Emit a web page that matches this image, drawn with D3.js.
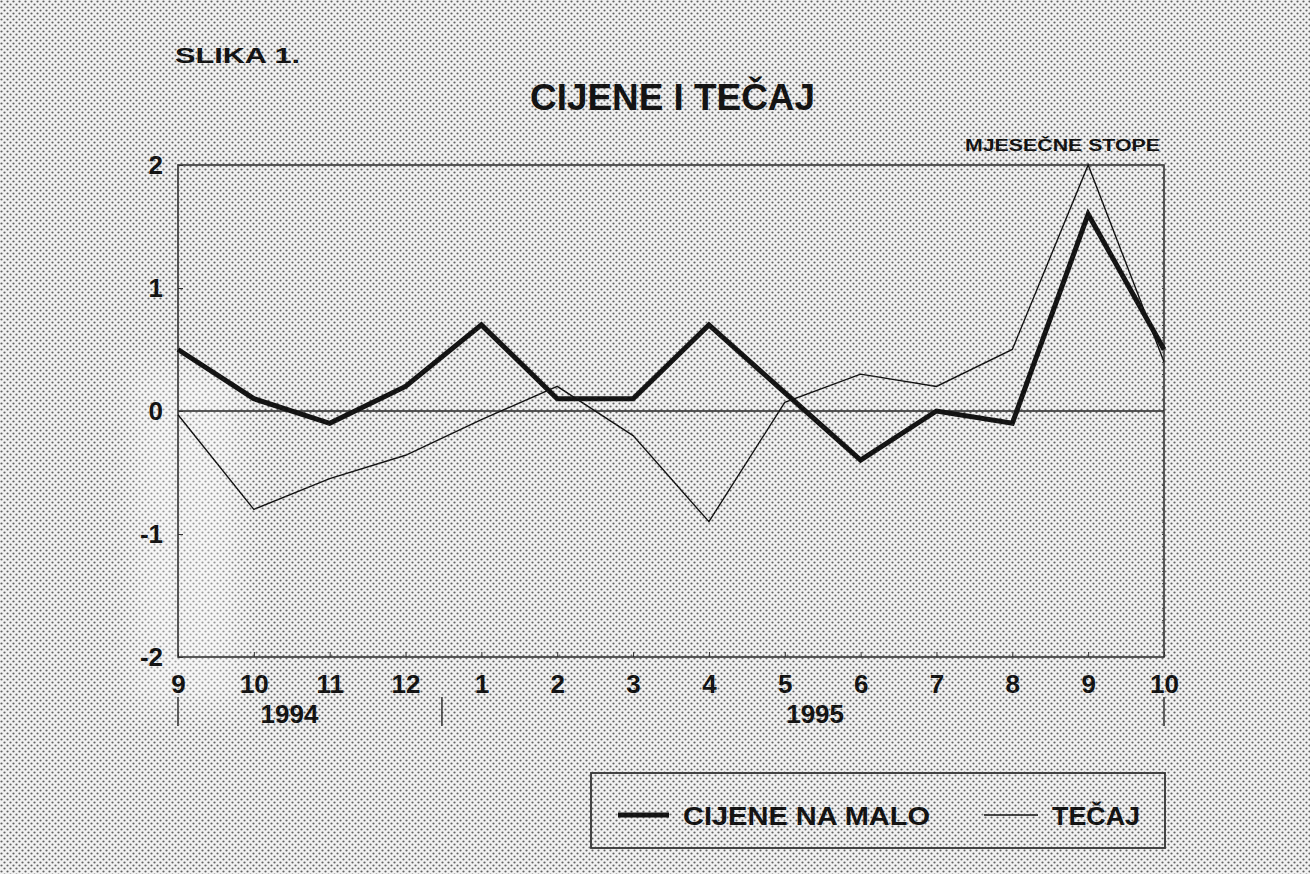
<!DOCTYPE html>
<html>
<head>
<meta charset="utf-8">
<script src="https://cdn.jsdelivr.net/npm/d3@7"></script>
<style>
  body { margin: 0; background: #fff; }
  svg { display: block; font-family: "Liberation Sans", Arial, sans-serif; }
</style>
</head>
<body>
<div class="chart"></div>
<script>
'use strict';

// month labels, Sep 1994 .. Oct 1995
var months = ['9', '10', '11', '12', '1', '2', '3', '4', '5', '6', '7', '8', '9', '10'];
var years = ['1994', '1995'];
var cijene = [0.5, 0.1, -0.1, 0.2, 0.7, 0.1, 0.1, 0.7, 0.15, -0.4, 0.0, -0.1, 1.6, 0.5];
var tecaj = [-0.03, -0.8, -0.55, -0.36, -0.07, 0.2, -0.2, -0.9, 0.07, 0.3, 0.2, 0.5, 2.0, 0.4];
var yTicks = [-2, -1, 0, 1, 2];

var W = 1310, H = 874;
var x = d3.scaleLinear().domain([0, months.length - 1]).range([178, 1164]);
var y = d3.scaleLinear().domain([-2, 2]).range([657, 165]);
var ink = '#141414';

var svg = d3.select('.chart').append('svg').attr('width', W).attr('height', H);

// halftone background, like the scanned print
var defs = svg.append('defs');
var pat = defs.append('pattern').attr('id', 'dots').attr('patternUnits', 'userSpaceOnUse')
  .attr('width', 6).attr('height', 6);
pat.append('rect').attr('width', 6).attr('height', 6).attr('fill', '#f2f2f2');
pat.append('circle').attr('cx', 1.5).attr('cy', 1.5).attr('r', 1.1).attr('fill', '#626262');
pat.append('circle').attr('cx', 4.5).attr('cy', 4.5).attr('r', 1.1).attr('fill', '#626262');
defs.append('filter').attr('id', 'soft').attr('filterUnits', 'userSpaceOnUse')
  .attr('x', 60).attr('y', 290).attr('width', 260).attr('height', 500)
  .append('feGaussianBlur').attr('stdDeviation', 16);
svg.append('rect').attr('width', W).attr('height', H).attr('fill', 'url(#dots)');
// lighter smudge near the left axis
svg.append('rect').attr('x', 135).attr('y', 370).attr('width', 105).attr('height', 335)
  .attr('fill', '#fff').attr('opacity', 0.35).attr('filter', 'url(#soft)');

function label(sel, size, len) {
  sel.attr('font-size', size).attr('font-weight', 'bold').attr('fill', ink);
  if (len) sel.attr('textLength', len).attr('lengthAdjust', 'spacingAndGlyphs');
  return sel;
}

label(svg.append('text').attr('x', 175).attr('y', 63), 22, 125).text('SLIKA 1.');
label(svg.append('text').attr('x', 530).attr('y', 110), 37, 285).text('CIJENE I TEČAJ');
label(svg.append('text').attr('x', 965).attr('y', 151), 16, 195).text('MJESEČNE STOPE');

// frame
svg.append('rect').attr('x', x(0)).attr('y', y(2)).attr('width', x(13) - x(0)).attr('height', y(-2) - y(2))
  .attr('fill', 'none').attr('stroke', '#333').attr('stroke-width', 1.6);

// zero line
svg.append('line').attr('x1', x(0)).attr('x2', x(13)).attr('y1', y(0)).attr('y2', y(0))
  .attr('stroke', '#222').attr('stroke-width', 1.5);

// left axis
var yAxis = d3.axisLeft(y).tickValues(yTicks).tickSize(-5).tickPadding(15)
  .tickFormat(function (d) { return d < 0 ? '-' + Math.abs(d) : d; });
var gy = svg.append('g').attr('transform', 'translate(' + x(0) + ',0)').call(yAxis);
gy.select('.domain').remove();
gy.selectAll('line').attr('stroke', '#333');
gy.selectAll('text').attr('font-size', 26).attr('font-weight', 'bold').attr('fill', ink)
  .attr('font-family', '"Liberation Sans", Arial, sans-serif');

// right axis minor ticks
var gr = svg.append('g').attr('transform', 'translate(' + x(13) + ',0)')
  .call(d3.axisRight(y).ticks(40).tickSize(-2).tickFormat(''));
gr.select('.domain').remove();
gr.selectAll('line').attr('stroke', '#444');

// bottom axis
var xAxis = d3.axisBottom(x).tickValues(d3.range(months.length)).tickSize(-5).tickPadding(18)
  .tickFormat(function (i) { return months[i]; });
var gx = svg.append('g').attr('transform', 'translate(0,' + y(-2) + ')').call(xAxis);
gx.select('.domain').remove();
gx.selectAll('line').attr('stroke', '#333');
gx.selectAll('text').attr('font-size', 26).attr('font-weight', 'bold').attr('fill', ink)
  .attr('font-family', '"Liberation Sans", Arial, sans-serif');

// year labels and separators
var seps = [0, 3.48, 13];
svg.selectAll('line.sep').data(seps).enter().append('line').attr('class', 'sep')
  .attr('x1', function (d) { return x(d); }).attr('x2', function (d) { return x(d); })
  .attr('y1', 697).attr('y2', 726).attr('stroke', '#333').attr('stroke-width', 1.5);
var yearPos = [1.47, 8.4];
svg.selectAll('text.year').data(years).enter().append('text').attr('class', 'year')
  .attr('x', function (d, i) { return x(yearPos[i]); }).attr('y', 723)
  .attr('text-anchor', 'middle').attr('font-size', 26).attr('font-weight', 'bold').attr('fill', ink)
  .text(function (d) { return d; });

// series
var line = d3.line().x(function (d, i) { return x(i); }).y(function (d) { return y(d); });
svg.append('path').datum(tecaj).attr('d', line).attr('fill', 'none').attr('stroke', ink)
  .attr('stroke-width', 1.4).attr('stroke-linejoin', 'miter');
svg.append('path').datum(cijene).attr('d', line).attr('fill', 'none').attr('stroke', ink)
  .attr('stroke-width', 5).attr('stroke-linejoin', 'miter');

// legend
var lg = svg.append('g');
lg.append('rect').attr('x', 591).attr('y', 773).attr('width', 574).attr('height', 75)
  .attr('fill', 'none').attr('stroke', '#333').attr('stroke-width', 1.8);
lg.append('line').attr('x1', 618).attr('x2', 669).attr('y1', 815).attr('y2', 815)
  .attr('stroke', ink).attr('stroke-width', 5);
label(lg.append('text').attr('x', 683).attr('y', 825), 26, 247).text('CIJENE NA MALO');
lg.append('line').attr('x1', 984).attr('x2', 1038).attr('y1', 815).attr('y2', 815)
  .attr('stroke', ink).attr('stroke-width', 1.4);
label(lg.append('text').attr('x', 1052).attr('y', 825), 26, 88).text('TEČAJ');
</script>
</body>
</html>
